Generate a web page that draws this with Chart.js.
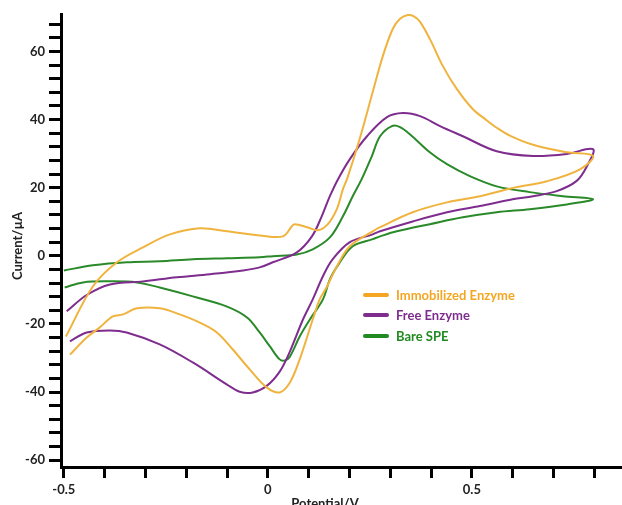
<!DOCTYPE html>
<html>
<head>
<meta charset="utf-8">
<script src="https://cdn.jsdelivr.net/npm/chart.js@4.4.1/dist/chart.umd.min.js"></script>
<style>
    body { margin: 0; background: #fff; }
    #wrap { position: relative; width: 622px; height: 505px; overflow: hidden; font-family: Lato, "Open Sans", sans-serif; font-weight: bold; }
    .axis-title { position: absolute; width: 120px; text-align: center; font-size: 13px; line-height: 16px; color: #222; }
    #yTitle { left: -43px; top: 238px; transform: rotate(-90deg); }
    #xTitle { left: 265px; top: 495px; }
    .legend-row { position: absolute; left: 363px; height: 18px; font-size: 13px; line-height: 18px; white-space: nowrap; }
    .legend-row span.swatch { position: absolute; left: 0; top: 7px; width: 26px; height: 4px; border-radius: 2px; }
    .legend-row span.label { position: absolute; left: 33px; top: 0; }
</style>
</head>
<body>
<div id="wrap">
    <canvas id="cvChart" width="622" height="505"></canvas>
    <div id="yTitle" class="axis-title">Current/µA</div>
    <div id="xTitle" class="axis-title">Potential/V</div>
    <div id="legend"></div>
</div>
<script>
// Series labels and colours
const seriesNames = ['Immobilized Enzyme', 'Free Enzyme', 'Bare SPE'];
const seriesColors = ['#EFB33E', '#7E2D8E', '#2A8A2A'];
const legendColors = ['#F4A623', '#7E2D8E', '#218A21'];

// Tick labels shown on the axes
const xLabels = [-0.5, 0, 0.5];
const yLabels = [-60, -40, -20, 0, 20, 40, 60];

// Immobilized Enzyme: forward scan then reverse scan
const immobV = [-0.495, -0.429, -0.370, -0.306, -0.240, -0.167, -0.100, -0.020, 0.037, 0.059, 0.066, 0.096, 0.123, 0.147, 0.169, 0.184, 0.194, 0.225, 0.257, 0.282, 0.306, 0.324, 0.343, 0.358, 0.373, 0.397, 0.429, 0.463, 0.502, 0.532, 0.561, 0.593, 0.650, 0.733, 0.797,
    0.765, 0.684, 0.600, 0.520, 0.439, 0.355, 0.275, 0.257, 0.201, 0.169, 0.145, 0.127, 0.110, 0.078, 0.054, 0.029, -0.002, -0.044, -0.086, -0.125, -0.167, -0.216, -0.265, -0.321, -0.355, -0.380, -0.412, -0.444, -0.485];
const immobI = [-23.7, -9.0, -1.9, 2.5, 6.3, 8.1, 7.2, 6.0, 5.7, 8.7, 9.3, 8.4, 7.5, 9.3, 13.7, 19.6, 22.5, 34.3, 48.1, 58.7, 66.6, 69.6, 70.7, 70.3, 68.7, 63.7, 55.7, 49.0, 43.1, 40.2, 37.6, 35.3, 32.6, 30.4, 29.3,
    25.4, 21.9, 19.9, 17.5, 15.7, 12.8, 8.4, 7.2, 2.8, -3.1, -9.0, -12.8, -18.7, -30.4, -37.2, -40.1, -38.7, -33.4, -27.5, -22.5, -19.6, -17.2, -15.4, -15.4, -17.2, -17.8, -21.0, -24.0, -29.0];

// Free Enzyme
const freeV = [-0.493, -0.444, -0.387, -0.306, -0.223, -0.142, -0.061, -0.020, 0.012, 0.071, 0.108, 0.132, 0.152, 0.172, 0.201, 0.243, 0.292, 0.331, 0.373, 0.422, 0.478, 0.561, 0.650, 0.733, 0.797,
    0.782, 0.757, 0.708, 0.650, 0.600, 0.520, 0.439, 0.355, 0.275, 0.257, 0.201, 0.159, 0.135, 0.110, 0.086, 0.054, 0.029, -0.002, -0.037, -0.069, -0.100, -0.184, -0.265, -0.346, -0.387, -0.444, -0.485];
const freeI = [-16.3, -11.5, -8.4, -7.5, -6.3, -5.4, -4.3, -3.4, -1.9, 1.0, 5.7, 11.6, 17.5, 22.5, 28.4, 35.1, 40.7, 41.9, 41.0, 38.1, 35.1, 30.7, 29.3, 29.9, 31.3,
    26.3, 22.0, 19.0, 17.5, 16.6, 14.6, 12.8, 10.1, 7.2, 6.3, 4.0, -1.0, -6.0, -12.8, -18.7, -28.1, -34.0, -38.1, -40.1, -39.9, -37.8, -31.3, -26.0, -22.5, -21.9, -22.5, -25.1];

// Bare SPE
const bareV = [-0.500, -0.429, -0.346, -0.265, -0.184, -0.100, -0.020, 0.012, 0.071, 0.110, 0.152, 0.184, 0.208, 0.230, 0.255, 0.275, 0.304, 0.324, 0.350, 0.397, 0.439, 0.495, 0.561, 0.642, 0.723, 0.797,
    0.733, 0.642, 0.561, 0.478, 0.397, 0.316, 0.275, 0.257, 0.208, 0.176, 0.152, 0.135, 0.103, 0.078, 0.054, 0.042, 0.029, 0.005, -0.020, -0.051, -0.100, -0.184, -0.265, -0.321, -0.387, -0.453, -0.498];
const bareI = [-4.3, -2.8, -1.9, -1.6, -1.0, -0.7, -0.4, -0.1, 0.4, 1.9, 5.4, 11.6, 17.5, 22.5, 29.3, 35.1, 38.1, 37.8, 35.5, 30.4, 26.9, 23.4, 20.4, 18.7, 17.5, 16.6,
    15.1, 13.7, 12.8, 11.3, 9.3, 7.2, 5.7, 4.9, 2.8, -2.0, -6.9, -12.8, -18.7, -23.7, -29.6, -30.7, -30.4, -26.6, -22.5, -18.1, -14.9, -11.9, -9.3, -7.8, -7.5, -7.8, -9.3];

function toPoints(vs, is) {
    return vs.map((v, i) => ({ x: v, y: is[i] }));
}

function isLabel(list, value) {
    return list.some(l => Math.abs(l - value) < 1e-6);
}

const allSeries = [toPoints(immobV, immobI), toPoints(freeV, freeI), toPoints(bareV, bareI)];
const tickFont = { family: 'Lato, "Open Sans", sans-serif', size: 13, weight: 'bold' };

new Chart(document.getElementById('cvChart').getContext('2d'), {
    type: 'scatter',
    data: {
        datasets: allSeries.map((pts, i) => ({
            label: seriesNames[i],
            data: pts,
            showLine: true,
            borderColor: seriesColors[i],
            borderWidth: 2,
            pointRadius: 0,
            tension: 0.35,
            fill: false
        }))
    },
    options: {
        responsive: false,
        animation: false,
        layout: { padding: { top: 14, right: 0, left: 0, bottom: 0 } },
        plugins: { legend: { display: false }, tooltip: { enabled: false } },
        scales: {
            x: {
                type: 'linear',
                min: -0.507,
                max: 0.868,
                afterFit: s => { s.height = 38; },
                border: { color: '#000', width: 3 },
                grid: { drawOnChartArea: false, drawTicks: true, tickLength: 11, tickWidth: 3, tickColor: '#000' },
                ticks: {
                    stepSize: 0.1,
                    includeBounds: false,
                    autoSkip: false,
                    maxRotation: 0,
                    padding: 4,
                    color: '#222',
                    font: tickFont,
                    callback: v => isLabel(xLabels, v) ? String(Math.round(v * 10) / 10) : ''
                }
            },
            y: {
                min: -62,
                max: 71,
                afterFit: s => { s.width = 61; },
                border: { color: '#000', width: 3 },
                grid: { drawOnChartArea: false, drawTicks: true, tickLength: 12, tickWidth: 3, tickColor: '#000' },
                ticks: {
                    stepSize: 4,
                    includeBounds: false,
                    autoSkip: false,
                    padding: 4,
                    color: '#222',
                    font: tickFont,
                    callback: v => isLabel(yLabels, v) ? String(v) : ''
                }
            }
        }
    }
});

// HTML legend placed inside the plot
const legend = document.getElementById('legend');
const legendTops = [286, 306, 327];
seriesNames.forEach((name, i) => {
    const row = document.createElement('div');
    row.className = 'legend-row';
    row.style.top = legendTops[i] + 'px';
    row.innerHTML = '<span class="swatch" style="background:' + legendColors[i] + '"></span>' +
        '<span class="label" style="color:' + legendColors[i] + '">' + name + '</span>';
    legend.appendChild(row);
});
</script>
</body>
</html>
